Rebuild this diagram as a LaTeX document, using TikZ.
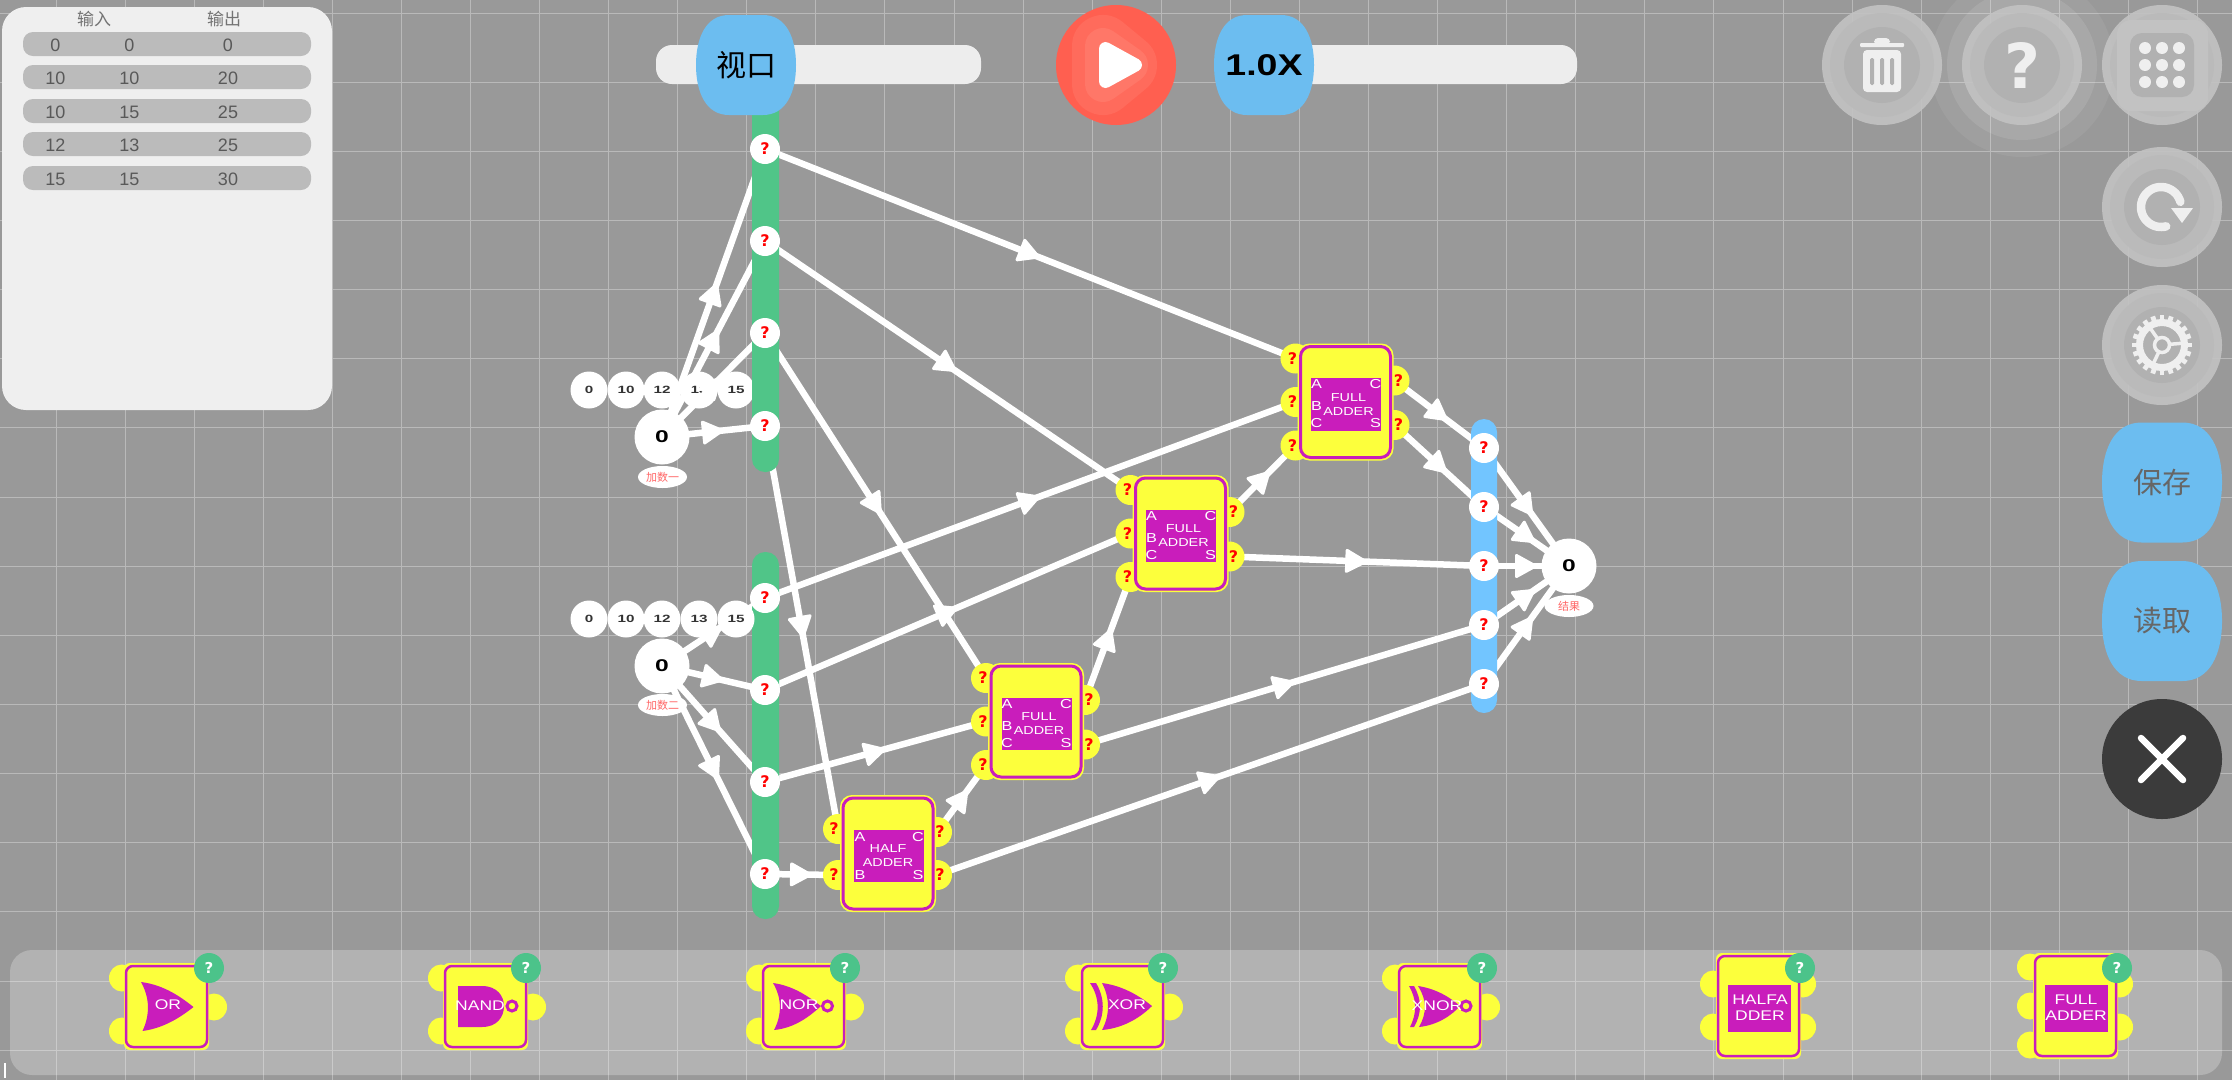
\documentclass[tikz,border=0pt]{standalone}
\usepackage{fontspec}
\usetikzlibrary{decorations.markings,shapes.geometric}
\setmainfont{Liberation Sans}
\newfontfamily\cjk{Noto Sans CJK SC}
\newfontfamily\orb[FakeStretch=1.25]{Liberation Sans}
\newfontfamily\orbb[FakeStretch=1.45]{Liberation Sans}
\newfontfamily\qf{DejaVu Sans}
\newcommand\fsz[1]{\fontsize{#1}{#1}\selectfont}
\definecolor{bgc}{HTML}{999999}
\definecolor{gridc}{HTML}{B9B9B9}
\definecolor{panelc}{HTML}{EFEFEF}
\definecolor{rowc}{HTML}{BBBBBB}
\definecolor{busg}{HTML}{50C588}
\definecolor{busb}{HTML}{72C5FF}
\definecolor{yel}{HTML}{FCFF3C}
\definecolor{pur}{HTML}{C91DBB}
\definecolor{knob}{HTML}{6CBDF0}
\definecolor{track}{HTML}{EDEDED}
\definecolor{badge}{HTML}{4CC38A}
\definecolor{ringa}{HTML}{C2C2C2}
\definecolor{ringb}{HTML}{BABABA}
\definecolor{ringc}{HTML}{B1B1B1}
\definecolor{playa}{HTML}{FF5F50}
\definecolor{playb}{HTML}{FF6B5C}
\definecolor{playc}{HTML}{FF7768}
\pgfdeclarelayer{bg}
\pgfdeclarelayer{nums}
\pgfdeclarelayer{wires}
\pgfsetlayers{bg,nums,wires,main}
\tikzset{
  pin/.style={circle,fill=white,minimum size=30pt,inner sep=0pt,text=red,font=\qf\bfseries\fsz{16}},
  pad/.style={circle,fill=yel,minimum size=30pt,inner sep=0pt},
  padq/.style={inner sep=0pt,text=red,font=\qf\bfseries\fsz{16}},
  wire/.style={line width=6.5pt,white,postaction={decorate,decoration={markings,mark=at position .5 with {\filldraw[white,line width=3pt,line join=round] (9,0)--(-10,-10.5)--(-10,10.5)--cycle;}}}},
  numc/.style={circle,fill=white,minimum size=37pt,inner sep=0pt,text=black!80,font=\orbb\bfseries\fsz{10.5}},
  big/.style={circle,fill=white,minimum size=55pt,inner sep=0pt,text=black,font=\orbb\bfseries\fsz{17}},
  tag/.style={ellipse,fill=white,minimum width=49pt,minimum height=22pt,inner sep=0pt,text=red!60,font=\cjk\fsz{11}},
  gtxt/.style={inner sep=0pt,text=white,font=\orb\fsz{11.5}},
  gtxts/.style={inner sep=0pt,text=white,font=\orb\fsz{13}},
  ttxt/.style={inner sep=0pt,text=white,font=\orb\fsz{14}},
  tcell/.style={inner sep=0pt,text=black!65,font=\fsz{18}},
  thead/.style={inner sep=0pt,text=black!55,font=\cjk\fsz{17}},
  hlp/.style={circle,fill=badge,minimum size=30pt,inner sep=0pt,text=white,font=\qf\bfseries\fsz{15}},
  tpad/.style={fill=yel},
}
% rounded blob with a short flat top
\newcommand\sqc[4]{\fill[#4,shift={(#1,#2)}] (-#3*.34,-#3) -- (#3*.34,-#3) .. controls (#3*.8,-#3) and (#3,-#3*.55) .. (#3,0) .. controls (#3,#3*.55) and (#3*.8,#3) .. (#3*.34,#3) -- (-#3*.34,#3) .. controls (-#3*.8,#3) and (-#3,#3*.55) .. (-#3,0) .. controls (-#3,-#3*.55) and (-#3*.8,-#3) .. (-#3*.34,-#3) -- cycle;}
\newcommand\rings[2]{\fill[ringa,opacity=.92] (#1,#2) circle[radius=60];\fill[ringb,opacity=.92] (#1,#2) circle[radius=52];\fill[ringc,opacity=.92] (#1,#2) circle[radius=38];}
% big gates
\newcommand\gatebody[2]{%
  \fill[yel,rounded corners=12pt] (#1-48,#2-58.5) rectangle (#1+48,#2+58.5);
  \draw[pur,line width=3pt,rounded corners=10pt] (#1-45,#2-55.5) rectangle (#1+45,#2+55.5);
  \fill[pur] (#1-34.5,#2-24) rectangle (#1+35.5,#2+28.5);
}
\newcommand\fulladder[3]{%
  \node[pad] (#1a) at (#2-50,#3-43.5) {};
  \node[pad] (#1b) at (#2-50,#3) {};
  \node[pad] (#1c) at (#2-50,#3+43.5) {};
  \node[pad] (#1o) at (#2+49,#3-21.5) {};
  \node[pad] (#1s) at (#2+49,#3+23) {};
  \gatebody{#2}{#3}
  \node[padq] (#1qa) at (#2-53,#3-43.5) {?};
  \node[padq] (#1qb) at (#2-53,#3) {?};
  \node[padq] (#1qc) at (#2-53,#3+43.5) {?};
  \node[padq] (#1qo) at (#2+53,#3-21.5) {?};
  \node[padq] (#1qs) at (#2+53,#3+23) {?};
  \node[gtxts] (#1ta) at (#2-29,#3-17.5) {A};
  \node[gtxts] (#1tc) at (#2+30,#3-17.5) {C};
  \node[gtxts] (#1tb) at (#2-29,#3+4.5) {B};
  \node[gtxts] (#1td) at (#2-29,#3+21.5) {C};
  \node[gtxts] (#1te) at (#2+30,#3+21.5) {S};
  \node[gtxt] (#1tf) at (#2+3,#3-4.5) {FULL};
  \node[gtxt] (#1tg) at (#2+3,#3+9.5) {ADDER};
}
\newcommand\halfadder[3]{%
  \node[pad] (#1a) at (#2-50,#3-24.5) {};
  \node[pad] (#1b) at (#2-50,#3+21.5) {};
  \node[pad] (#1o) at (#2+49,#3-21.5) {};
  \node[pad] (#1s) at (#2+49,#3+21.5) {};
  \gatebody{#2}{#3}
  \node[padq] (#1qa) at (#2-54,#3-24.5) {?};
  \node[padq] (#1qb) at (#2-54,#3+21.5) {?};
  \node[padq] (#1qo) at (#2+52,#3-21.5) {?};
  \node[padq] (#1qs) at (#2+52,#3+21.5) {?};
  \node[gtxts] (#1ta) at (#2-28,#3-16.5) {A};
  \node[gtxts] (#1tc) at (#2+30,#3-16.5) {C};
  \node[gtxts] (#1tb) at (#2-28,#3+21.5) {B};
  \node[gtxts] (#1te) at (#2+30,#3+21.5) {S};
  \node[gtxt] (#1tf) at (#2,#3-4.5) {HALF};
  \node[gtxt] (#1tg) at (#2,#3+9.5) {ADDER};
}
% toolbar gate frame
\newcommand\tframe[3]{% x left, y top, y bottom
  \fill[yel,rounded corners=6pt] (#1-2,#2-3) rectangle (#1+83,#3+3);
  \draw[pur,line width=2.5pt,rounded corners=7pt] (#1,#2) rectangle (#1+81,#3);
}
\newcommand\tpads[1]{%
  \fill[tpad] (#1-4,978) circle[x radius=13,y radius=13.5];
  \fill[tpad] (#1-4,1031) circle[x radius=13,y radius=13.5];
  \fill[tpad] (#1+88,1007) circle[x radius=13,y radius=13.5];
}
\begin{document}
\begin{tikzpicture}[x=1pt,y=-1pt]
\useasboundingbox (0,0) rectangle (2232,1080);
\begin{pgfonlayer}{bg}
  \fill[bgc] (0,0) rectangle (2232,1080);
  \foreach \k in {0,...,31} \draw[gridc,line width=1pt] ({56+69.08*\k},0) -- ({56+69.08*\k},1080);
  \foreach \k in {0,...,15} \draw[gridc,line width=1pt] (0,{13+69.15*\k}) -- (2232,{13+69.15*\k});
  \fill[white,opacity=.25,rounded corners=22pt] (10,950) rectangle (2222,1075);
  \draw[white,line width=2pt] (5,1063) -- (5,1078);
  % table panel
  \fill[panelc,rounded corners=24pt] (2,7) rectangle (332,410);
  \foreach \yy in {44,77,111,144,178} \fill[rowc,rounded corners=10pt] (23,{\yy-12}) rectangle (311,{\yy+12});
\end{pgfonlayer}

\node[thead] (h1) at (94,19) {输入};
\node[thead] (h2) at (224,19) {输出};
\foreach \i/\yy/\a/\b/\c in {1/45/0/0/0,2/78/10/10/20,3/112/10/15/25,4/145/12/13/25,5/179/15/15/30}{
  \node[tcell] (ta\i) at (55.5,\yy) {\a};
  \node[tcell] (tb\i) at (129.5,\yy) {\b};
  \node[tcell] (tc\i) at (228,\yy) {\c};
}

% sliders
\fill[track,rounded corners=16pt] (656,45) rectangle (981,84);
\fill[track,rounded corners=16pt] (1230,45) rectangle (1577,84);

% buses
\fill[busg,rounded corners=13pt] (752,90) rectangle (779,472);
\fill[busg,rounded corners=13pt] (752,552) rectangle (779,919);
\fill[busb,rounded corners=13pt] (1471,419) rectangle (1497,713);

\sqc{746}{65}{50}{knob}
\node[inner sep=0pt,font=\cjk\fsz{30}] (vp) at (746,65) {视口};
\sqc{1264}{65}{50}{knob}
\node[inner sep=0pt,font=\orb\bfseries\fsz{30}] (speed) at (1264,65) {1.0X};

% play
\fill[playa] (1116,65) circle[radius=60];
\begin{scope}
  \clip (1116,65) circle[radius=59];
  \filldraw[fill=playb,draw=playb,line width=62pt,line join=round] (1103,46) -- (1103,84) -- (1126,65) -- cycle;
  \filldraw[fill=playc,draw=playc,line width=36pt,line join=round] (1103,46) -- (1103,84) -- (1130,65) -- cycle;
\end{scope}
\filldraw[white,line width=13pt,line join=round] (1105.5,48.5) -- (1105.5,81.5) -- (1135.5,65) -- cycle;

% input value buttons: the first row lies under the wires, the second over them
\begin{pgfonlayer}{nums}
\foreach \i/\xx/\t in {a/589/0,b/626/10,c/662/12,d/699/13,e/736/15}{
  \node[numc] (n1\i) at (\xx,390) {\t};
}
\end{pgfonlayer}
\foreach \i/\xx/\t in {a/589/0,b/626/10,c/662/12,d/699/13,e/736/15}{
  \node[numc] (n2\i) at (\xx,619) {\t};
}
\node[big] (in1) at (662,437) {0};
\node[tag] (l1) at (662.5,477) {加数一};
\node[big] (in2) at (662,666) {0};
\node[tag] (l2) at (662.5,705) {加数二};
\node[big] (out) at (1569,566) {0};
\node[tag] (l3) at (1569,606) {结果};

% pins
\foreach \n/\yy in {a/149,b/241,c/333,d/426} \node[pin] (p\n) at (765,\yy) {?};
\foreach \n/\yy in {a/598,b/690,c/782,d/874} \node[pin] (q\n) at (765,\yy) {?};
\foreach \n/\yy in {a/448,b/507,c/566,d/625,e/684} \node[pin] (r\n) at (1484,\yy) {?};

% gates
\fulladder{fa}{1345.5}{402}
\fulladder{fb}{1180.5}{533.5}
\fulladder{fc}{1036}{721.5}
\halfadder{ha}{888}{853.5}

% wires
\begin{pgfonlayer}{wires}
\foreach \a/\b in {in1/pa,in1/pb,in1/pc,in1/pd,in2/qa,in2/qb,in2/qc,in2/qd,
  pa/faa,pb/fba,pc/fca,pd/haa,qa/fab,qb/fbb,qc/fcb,qd/hab,
  hao/fcc,has/re,fco/fbc,fcs/rd,fbo/fac,fbs/rc,fao/ra,fas/rb,
  ra/out,rb/out,rc/out,rd/out,re/out}
  \draw[wire] (\a.center) -- (\b.center);
\end{pgfonlayer}

% top-right buttons
\fill[white,opacity=.06] (2022,65) circle[radius=92];
\fill[white,opacity=.1] (2022,65) circle[radius=75];
\rings{1882}{65}
\rings{2022}{65}
\rings{2162}{65}
\fill[ringa,rounded corners=14pt] (2117,20) rectangle (2208,111);
\fill[ringc,rounded corners=12pt] (2130,33) rectangle (2194,97);
\rings{2162}{207}
\rings{2162}{345}
% trash
\fill[panelc,rounded corners=1pt] (1860,43) rectangle (1904,47);
\fill[panelc,rounded corners=4pt] (1874,38) rectangle (1890,45);
\fill[panelc,rounded corners=4pt] (1863,50) rectangle (1901,92);
\foreach \xx in {1872,1882,1892} \fill[ringc,rounded corners=1.5pt] ({\xx-2},58) rectangle ({\xx+2},85);
% help
\node[inner sep=0pt,text=panelc,font=\qf\bfseries\fsz{62}] (hq) at (2022,65) {?};
% grid of dots
\foreach \xx in {2145,2162,2179} \foreach \yy in {48,65,82} \fill[panelc] (\xx,\yy) circle[radius=6];
% refresh
\draw[panelc,line width=8.5pt,line cap=round,shift={(2161,207)}] plot[domain=75:345,samples=40,smooth] (\x:20);
\fill[panelc,line join=round] (2171,208) -- (2193,208) -- (2182,223) -- cycle;
% gear
\begin{scope}[shift={(2162,345)}]
  \draw[panelc,line width=7pt] (0,0) circle[radius=22.5];
  \foreach \a in {0,18,...,342} \fill[panelc,rotate=\a] (23,-2.4) rectangle (30,2.4);
  \draw[panelc,line width=3.5pt] (0,0) circle[radius=7.5];
  \foreach \a in {5,125,245} \draw[panelc,line width=3.5pt,rotate=\a] (7,0) -- (22,0);
\end{scope}
% save, load, close
\sqc{2162}{482.5}{60}{knob}
\node[inner sep=0pt,text=black!60,font=\cjk\fsz{29}] (sv) at (2162,482.5) {保存};
\sqc{2162}{621}{60}{knob}
\node[inner sep=0pt,text=black!60,font=\cjk\fsz{29}] (ld) at (2162,621) {读取};
\fill[black!77] (2162,759) circle[radius=60];
\draw[white,line width=6.5pt,line cap=round] (2141,738) -- (2183,780) (2183,738) -- (2141,780);

% toolbar: OR
\tpads{126}\tframe{126}{966}{1047}
\fill[pur] (141,982) .. controls (165,985) and (182,998) .. (193.5,1007) .. controls (182,1016) and (165,1028) .. (142.5,1031) .. controls (150,1015) and (150,998) .. cycle;
\node[ttxt] (gor) at (168,1005) {OR};
% NAND
\tpads{445}\tframe{445}{966}{1047}
\fill[pur] (458,986) -- (482,986) .. controls (497,986) and (504,996) .. (504,1006) .. controls (504,1017) and (497,1027) .. (482,1027) -- (458,1027) -- cycle;
\draw[pur,line width=3pt,fill=yel] (512,1006) circle[radius=5];
\node[ttxt] (gnand) at (480,1006) {NAND};
% NOR
\tpads{763}\tframe{763}{966}{1047}
\fill[pur] (773,983) .. controls (795,986) and (810,998) .. (821,1006) .. controls (810,1016) and (795,1028) .. (774,1030) .. controls (782,1015) and (782,998) .. cycle;
\draw[pur,line width=3pt,fill=yel] (827.5,1006) circle[radius=5];
\node[ttxt] (gnor) at (799,1005) {NOR};
% XOR
\tpads{1082}\tframe{1082}{966}{1047}
\fill[pur] (1102,983) .. controls (1125,986) and (1142,998) .. (1152,1006) .. controls (1142,1016) and (1125,1028) .. (1102,1030) .. controls (1110,1015) and (1110,998) .. cycle;
\fill[pur] (1090,983) -- (1096,983) .. controls (1105,998) and (1105,1015) .. (1096,1030) -- (1091,1030) .. controls (1100,1015) and (1100,998) .. cycle;
\node[ttxt] (gxor) at (1127,1005) {XOR};
% XNOR
\tpads{1399}\tframe{1399}{966}{1047}
\fill[pur] (1418,986) .. controls (1438,989) and (1452,999) .. (1460,1006) .. controls (1452,1015) and (1438,1025) .. (1419,1027) .. controls (1427,1013) and (1427,1000) .. cycle;
\fill[pur] (1409,986) -- (1414,986) .. controls (1422,1000) and (1422,1013) .. (1414,1027) -- (1410,1027) .. controls (1417,1013) and (1417,1000) .. cycle;
\draw[pur,line width=3pt,fill=yel] (1466,1006) circle[radius=5];
\node[ttxt] (gxnor) at (1437,1006) {XNOR};
% HALFADDER
\foreach \yy in {984,1027} {\fill[tpad] (1713,\yy) circle[x radius=13,y radius=13.5];\fill[tpad] (1803,\yy) circle[x radius=13,y radius=13.5];}
\tframe{1718}{956}{1056}
\fill[pur] (1728,985) rectangle (1791,1032);
\node[ttxt] (gh1) at (1760,1000) {HALFA};
\node[ttxt] (gh2) at (1760,1016) {DDER};
% FULLADDER
\foreach \yy in {967,1006,1045} \fill[tpad] (2030,\yy) circle[x radius=13,y radius=13.5];
\foreach \yy in {984,1027} \fill[tpad] (2120,\yy) circle[x radius=13,y radius=13.5];
\tframe{2035}{956}{1056}
\fill[pur] (2045,985) rectangle (2108,1032);
\node[ttxt] (gf1) at (2076,1000) {FULL};
\node[ttxt] (gf2) at (2076,1016) {ADDER};
% help badges
\foreach \i/\xx in {a/209,b/526,c/845,d/1163,e/1482,f/1800,g/2117} \node[hlp] (bdg\i) at (\xx,968) {?};
\end{tikzpicture}
\end{document}
